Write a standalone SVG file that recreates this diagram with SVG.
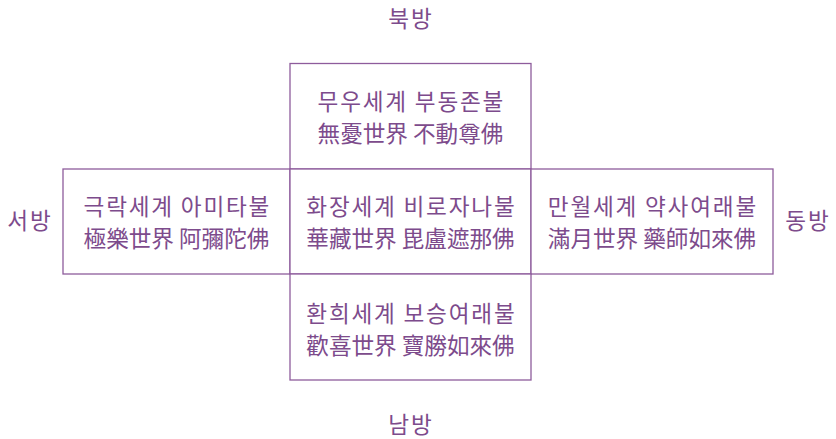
<svg xmlns="http://www.w3.org/2000/svg" width="836" height="439" viewBox="0 0 836 439">
<style>
.box{fill:#ffffff;stroke:#8e5c9c;stroke-width:1.3}
.t{font-family:"Noto Sans CJK KR","Noto Sans CJK SC",sans-serif;font-size:22.6px;fill:#7d4b8c;text-anchor:middle}
.k{letter-spacing:1.8px}
</style>
<rect width="836" height="439" fill="#ffffff"/>
<g id="north">
<rect class="box" x="290" y="63.5" width="241" height="105.5"/>
<text class="t k" x="411.4" y="110">무우세계 부동존불</text>
<text class="t" x="410.5" y="142">無憂世界 不動尊佛</text>
</g>
<g id="west">
<rect class="box" x="63" y="169" width="227" height="105"/>
<text class="t k" x="177.4" y="215">극락세계 아미타불</text>
<text class="t" x="176.5" y="247">極樂世界 阿彌陀佛</text>
</g>
<g id="center">
<rect class="box" x="290" y="169" width="241" height="105"/>
<text class="t k" x="411.4" y="215">화장세계 비로자나불</text>
<text class="t" x="410.5" y="247">華藏世界 毘盧遮那佛</text>
</g>
<g id="east">
<rect class="box" x="531" y="169" width="242" height="105"/>
<text class="t k" x="652.9" y="215">만월세계 약사여래불</text>
<text class="t" x="652" y="247">滿月世界 藥師如來佛</text>
</g>
<g id="south">
<rect class="box" x="290" y="274" width="241" height="106"/>
<text class="t k" x="411.4" y="322">환희세계 보승여래불</text>
<text class="t" x="410.5" y="354">歡喜世界 寶勝如來佛</text>
</g>
<g id="labels">
<text class="t k" x="410.9" y="27">북방</text>
<text class="t k" x="410.9" y="433">남방</text>
<text class="t k" x="29.9" y="229">서방</text>
<text class="t k" x="807.9" y="229">동방</text>
</g>
<g id="connectors"></g>
</svg>
